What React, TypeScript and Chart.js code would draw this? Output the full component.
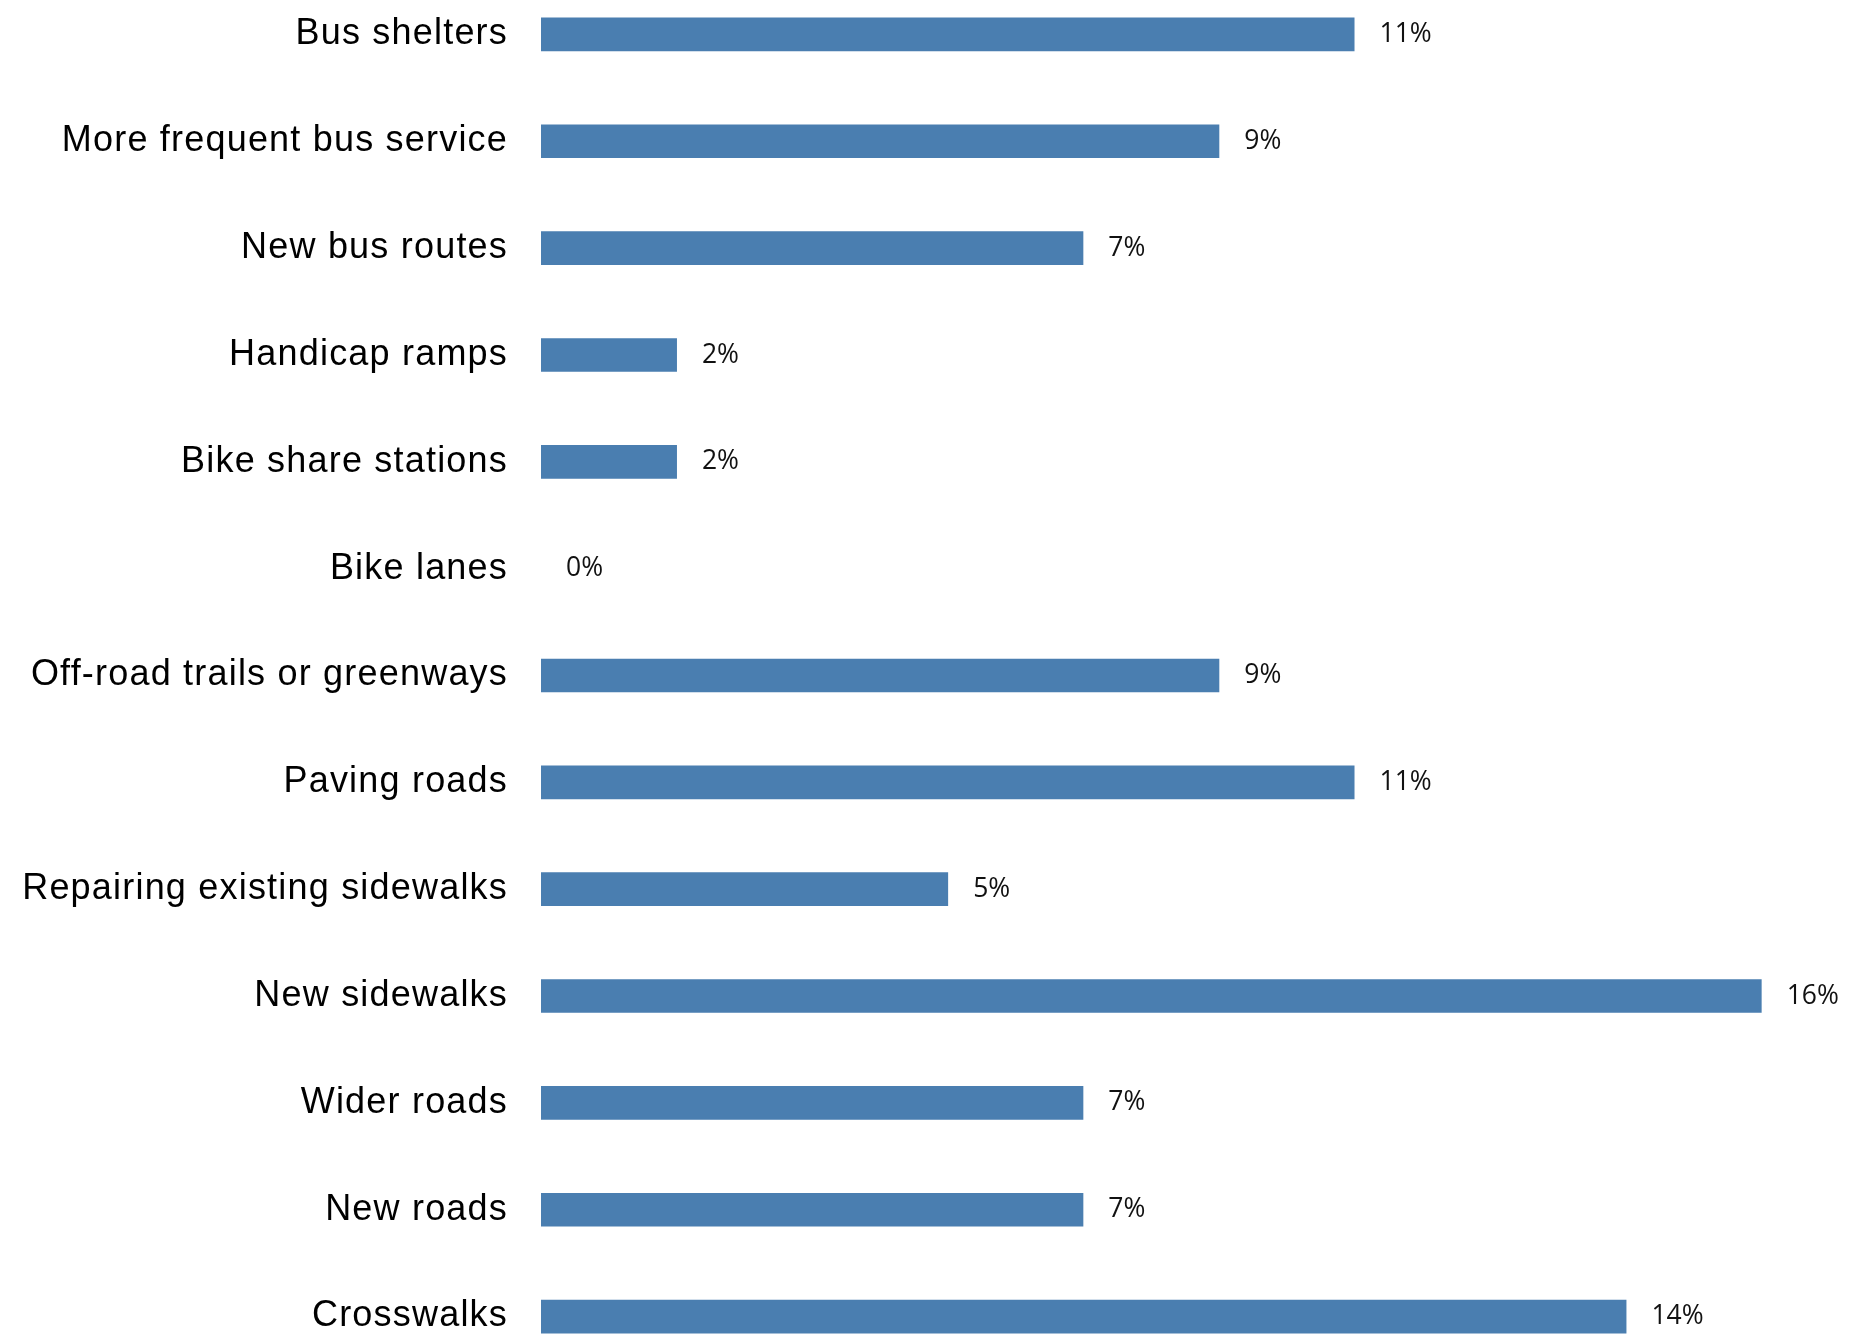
import React, { useEffect, useRef } from 'react';
import { Chart, registerables } from 'chart.js';

Chart.register(...registerables);

const categories = [
  'Bus shelters',
  'More frequent bus service',
  'New bus routes',
  'Handicap ramps',
  'Bike share stations',
  'Bike lanes',
  'Off-road trails or greenways',
  'Paving roads',
  'Repairing existing sidewalks',
  'New sidewalks',
  'Wider roads',
  'New roads',
  'Crosswalks',
];

const shares = [10.71, 8.93, 7.14, 1.79, 1.79, 0, 8.93, 10.71, 5.36, 16.07, 7.14, 7.14, 14.29];

const xMin = 0;
const xMax = 17.22;

const BAR_COLOR = '#4a7eb0';

const labelSpacing = {
  id: 'labelSpacing',
  beforeDraw(chart: any) {
    chart.ctx.letterSpacing = '1.2px';
  },
  beforeDatasetsDraw(chart: any) {
    chart.ctx.letterSpacing = '0px';
  },
};

const valueLabels = {
  id: 'valueLabels',
  afterDatasetsDraw(chart: any) {
    const ctx = chart.ctx;
    const meta = chart.getDatasetMeta(0);
    const data = chart.data.datasets[0].data as number[];
    ctx.save();
    ctx.letterSpacing = '0px';
    ctx.font = '26.5px "Open Sans"';
    ctx.fillStyle = '#111111';
    ctx.textAlign = 'left';
    ctx.textBaseline = 'middle';
    meta.data.forEach((bar: any, i: number) => {
      ctx.fillText(Math.round(data[i]) + '%', bar.x + 25, bar.y);
    });
    ctx.restore();
  },
};

export default function App() {
  const ref = useRef<HTMLCanvasElement | null>(null);

  useEffect(() => {
    if (!ref.current) return;
    const chart = new Chart(ref.current, {
      type: 'bar',
      data: {
        labels: categories,
        datasets: [
          {
            data: shares,
            backgroundColor: BAR_COLOR,
            borderWidth: 0,
            categoryPercentage: 1,
            barPercentage: 0.315,
          },
        ],
      },
      options: {
        indexAxis: 'y',
        animation: false,
        responsive: false,
        maintainAspectRatio: false,
        layout: { padding: 0 },
        plugins: {
          legend: { display: false },
          tooltip: { enabled: false },
          title: { display: false },
        },
        scales: {
          x: {
            display: false,
            min: xMin,
            max: xMax,
          },
          y: {
            offset: true,
            grid: { display: false, drawTicks: false },
            border: { display: false },
            ticks: {
              padding: 33,
              color: '#000000',
              font: { family: '"Liberation Sans", Arial, sans-serif', size: 36 },
            },
            afterFit: (scale: any) => {
              scale.width = 541;
              scale.paddingTop = 0;
              scale.paddingBottom = 0;
            },
          },
        },
      },
      plugins: [labelSpacing, valueLabels],
    });
    return () => chart.destroy();
  }, []);

  return (
    <div
      style={{
        position: 'fixed',
        left: 0,
        top: 0,
        width: 1849,
        height: 1339,
        overflow: 'hidden',
        background: '#ffffff',
      }}
    >
      <canvas
        ref={ref}
        width={1849}
        height={1389}
        style={{ position: 'absolute', left: 0, top: -19, width: 1849, height: 1389 }}
      />
    </div>
  );
}
